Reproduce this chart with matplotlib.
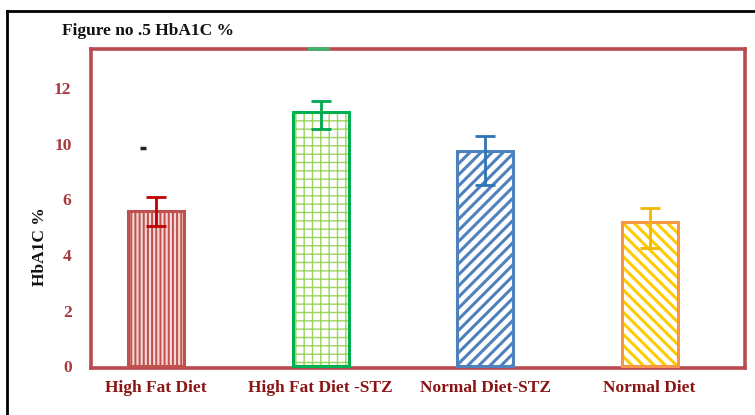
import numpy as np
import matplotlib
matplotlib.use("Agg")
import matplotlib.pyplot as plt
from matplotlib.lines import Line2D

# HbA1C (%) per diet group
groups = ["High Fat Diet", "High Fat Diet -STZ", "Normal Diet-STZ", "Normal Diet"]
hba1c = [5.6, 11.15, 9.5, 5.2]
err_low = [0.55, 0.6, 2.45, 0.95]
err_high = [0.55, 0.4, 0.8, 0.5]

# labelled ticks of the value axis (evenly spaced on the page)
tick_values = [0, 2, 4, 6, 10, 12]

fill_face = ["#f4d6d6", "white", "white", "white"]
hatch_colors = ["#c0504d", "#9bd45a", "#4f81bd", "#ffcc00"]
edge_colors = ["#c0504d", "#00b050", "#4f81bd", "#f79646"]
err_colors = ["#c00000", "#00a850", "#2e75b6", "#f2b800"]
hatches = ["||||", "++", "///", "\\\\\\"]
hatch_widths = [1.4, 1.0, 2.2, 2.2]

red_frame = "#b84a50"
label_red = "#8b1414"
tick_red = "#a8383c"

plt.rcParams["font.family"] = ["Liberation Serif", "DejaVu Serif"]

fig = plt.figure(figsize=(7.55, 4.15), dpi=100)
ax = fig.add_axes([0.1205, 0.1133, 0.8663, 0.7686])

# piecewise axis: each labelled tick takes one equal step on the page
scale_vals = np.array([-2, 0, 2, 4, 6, 10, 12, 14], dtype=float)
scale_steps = np.array([-1, 0, 1, 2, 3, 4, 5, 6], dtype=float)


def forward(v):
    return np.interp(v, scale_vals, scale_steps)


def inverse(s):
    return np.interp(s, scale_steps, scale_vals)


ax.set_yscale("function", functions=(forward, inverse))

x = np.arange(len(groups))
width = 0.34
for i in range(len(groups)):
    plt.rcParams["hatch.linewidth"] = hatch_widths[i]
    plt.rcParams["hatch.color"] = hatch_colors[i]
    b = ax.bar(x[i], hba1c[i], width=width, color=fill_face[i],
               edgecolor=hatch_colors[i], hatch=hatches[i], linewidth=0,
               zorder=2)
    for p in b:
        if hasattr(p, "set_hatch_linewidth"):
            p.set_hatch_linewidth(hatch_widths[i])
    ax.bar(x[i], hba1c[i], width=width, fill=False,
           edgecolor=edge_colors[i], linewidth=2.2, zorder=3)
    ax.errorbar(x[i], hba1c[i], yerr=[[err_low[i]], [err_high[i]]],
                fmt="none", ecolor=err_colors[i], elinewidth=2.0,
                capsize=7.5, capthick=2.0, zorder=4)

ax.set_xlim(-0.396, 3.58)
ax.set_ylim(-0.07, 13.42)
ax.set_yticks(tick_values)
ax.set_yticklabels([str(v) for v in tick_values])
ax.yaxis.set_minor_locator(matplotlib.ticker.NullLocator())
ax.set_xticks(x)
ax.set_xticklabels(groups)

ax.tick_params(axis="y", length=0, pad=14, labelsize=12.5, labelcolor=tick_red)
ax.tick_params(axis="x", length=0, pad=9, labelsize=12.5, labelcolor=label_red)
for lab in ax.get_xticklabels() + ax.get_yticklabels():
    lab.set_fontweight("bold")

for side in ["left", "right", "top", "bottom"]:
    ax.spines[side].set_color(red_frame)
    ax.spines[side].set_linewidth(2.6)

ax.set_ylabel("HbA1C %", fontsize=12.5, fontweight="bold", color="#111111")
ax.yaxis.set_label_coords(-0.066, 0.38)

# small marks on the plot area
ax.plot([-0.08], [9.7], marker="_", markersize=5, markeredgewidth=2.5,
        color="#222222", linestyle="none", zorder=5)
ax.plot([0.332, 0.365], [1, 1], transform=ax.transAxes, color="#3cb56a",
        linewidth=2.6, solid_capstyle="butt", zorder=5, clip_on=False)

fig.text(62 / 755, 1 - 31 / 415, "Figure no .5 HbA1C %", fontsize=12.5,
         fontweight="bold", color="#111111", ha="left", va="center")

# page border (top and left)
fig.add_artist(Line2D([7 / 755, 1.0], [1 - 11 / 415, 1 - 11 / 415],
                      transform=fig.transFigure, color="black", linewidth=2))
fig.add_artist(Line2D([7 / 755, 7 / 755], [0, 1 - 11 / 415],
                      transform=fig.transFigure, color="black", linewidth=2))

fig.savefig("out.png", dpi=100)
